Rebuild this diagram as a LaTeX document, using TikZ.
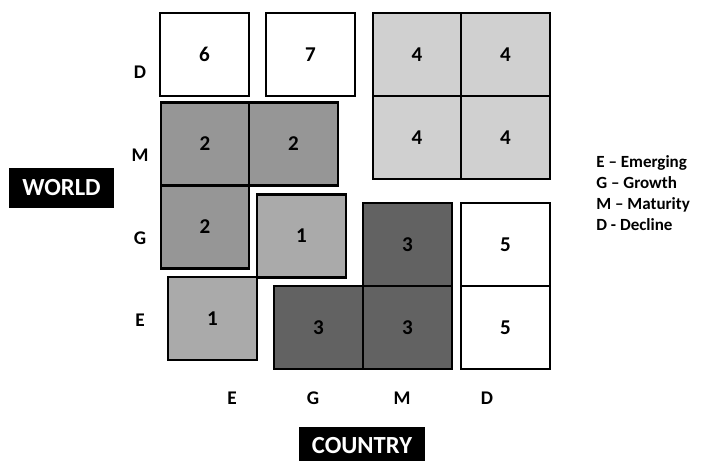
\documentclass[tikz,border=0pt]{standalone}
\usepackage{fontspec}
\setmainfont{Carlito}
\usetikzlibrary{positioning}
\definecolor{gWhite} {RGB}{255,255,255}
\definecolor{gLight} {RGB}{208,208,208}
\definecolor{gMid}   {RGB}{170,170,170}
\definecolor{gDark}  {RGB}{150,150,150}
\definecolor{gDeep}  {RGB}{98,98,98}

\begin{document}
\begin{tikzpicture}[x=0.02cm, y=-0.02cm, font=\bfseries\fontsize{11}{13}\selectfont,
    CELL/.style={draw, line width=1.4pt, minimum width=1.77cm, minimum height=1.66cm, inner sep=0pt,
        font=\bfseries\fontsize{12}{14}\selectfont},
    TAG/.style={fill=black, text=white, inner sep=0pt, font=\bfseries\fontsize{14}{16}\selectfont},
    AXL/.style={inner sep=0pt}]
    \useasboundingbox (0,0) rectangle (702,460);
    % stage cells
    \node[CELL, fill=gWhite] (six)   at (204.5,54.5)  {6};
    \node[CELL, fill=gWhite] (seven) at (310.5,54.5)  {7};
    \node[CELL, fill=gLight] (fourA) at (417,54.5)    {4};
    \node[CELL, fill=gLight] (fourB) at (505.5,54.5)  {4};
    \node[CELL, fill=gLight] (fourC) at (417,137.5)   {4};
    \node[CELL, fill=gLight] (fourD) at (505.5,137.5) {4};
    \node[CELL, fill=gDark]  (twoA)  at (205,144)     {2};
    \node[CELL, fill=gDark]  (twoB)  at (293.5,144)   {2};
    \node[CELL, fill=gDark]  (twoC)  at (205,227)     {2};
    \node[CELL, fill=gMid]   (oneA)  at (301.5,236)   {1};
    \node[CELL, fill=gMid]   (oneB)  at (212.5,318.5) {1};
    \node[CELL, fill=gDeep]  (threeA) at (407.5,244.5) {3};
    \node[CELL, fill=gDeep]  (threeB) at (318.5,327.5) {3};
    \node[CELL, fill=gDeep]  (threeC) at (407.5,327.5) {3};
    \node[CELL, fill=gWhite] (fiveA) at (505.5,244.5) {5};
    \node[CELL, fill=gWhite] (fiveB) at (505.5,327.5) {5};
    % axis letters
    \node[AXL] (rowD) at (140,72)  {D};
    \node[AXL] (rowM) at (140,155) {M};
    \node[AXL] (rowG) at (140,238) {G};
    \node[AXL] (rowE) at (140,320) {E};
    \node[AXL] (colE) at (232,398) {E};
    \node[AXL] (colG) at (313,398) {G};
    \node[AXL] (colM) at (402,398) {M};
    \node[AXL] (colD) at (487,398) {D};
    % axis titles
    \node[TAG, minimum width=2.1cm, minimum height=0.8cm] (world) at (61.5,188) {WORLD};
    \node[TAG, minimum width=2.52cm, minimum height=0.74cm, anchor=north] (country) at (362,427) {COUNTRY};
    % legend
    \node[anchor=west, align=left, inner sep=0pt, font=\bfseries\fontsize{9.7}{12}\selectfont] (legend) at (596,193)
        {E -- Emerging\\G -- Growth\\M -- Maturity\\D - Decline};
\end{tikzpicture}
\end{document}
